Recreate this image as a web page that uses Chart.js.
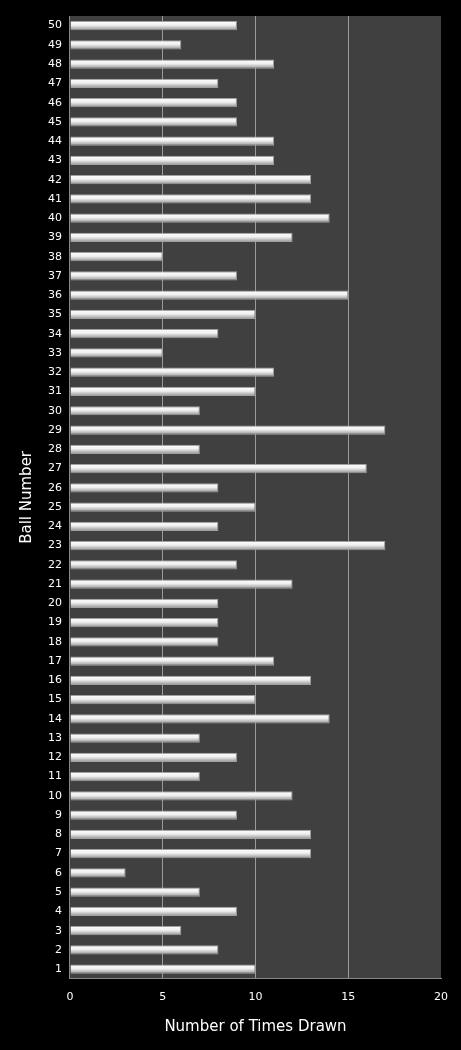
<!DOCTYPE html>
<html><head><meta charset="utf-8">
<script src="https://cdn.jsdelivr.net/npm/chart.js@4"></script>
<style>html,body{margin:0;padding:0;background:#000;}#w{width:461px;height:1050px;}</style>
</head><body><div id="w"><canvas id="c"></canvas></div>
<script>
const balls = Array.from({length:50},(_,i)=>String(i+1));
const timesDrawn = [10,8,6,9,7,3,13,13,9,12,7,9,7,14,10,13,11,8,8,8,12,9,17,8,10,8,16,7,17,7,10,11,5,8,10,15,9,5,12,14,13,13,11,11,9,9,8,11,6,9];
const xTicks = [0,5,10,15,20];
const bgPlugin = {id:'bg',beforeDraw(ch){const a=ch.chartArea,ctx=ch.ctx;ctx.save();ctx.fillStyle='#000';ctx.fillRect(0,0,ch.width,ch.height);ctx.fillStyle='#404040';ctx.fillRect(a.left,a.top,a.right-a.left,a.bottom-a.top);ctx.restore();}};
new Chart(document.getElementById('c'),{
type:'bar',
data:{labels:balls,datasets:[{data:timesDrawn,
 backgroundColor(ctx){const ch=ctx.chart;const ys=ch.scales&&ch.scales.y;if(!ch.chartArea||!ys||ctx.dataIndex===undefined)return '#e6e6e6';const y=ys.getPixelForValue(ctx.dataIndex);const g=ch.ctx.createLinearGradient(0,y-5,0,y+5);g.addColorStop(0,'#ffffff');g.addColorStop(0.45,'#f0f0f0');g.addColorStop(1,'#8a8a8a');return g;},
 borderColor:'#a0a0a0',borderWidth:1,barPercentage:0.48,categoryPercentage:1}]},
options:{indexAxis:'y',responsive:true,maintainAspectRatio:false,animation:false,
 layout:{padding:{top:16,right:20,bottom:10,left:14}},
 plugins:{legend:{display:false},tooltip:{enabled:false}},
 scales:{
  x:{min:0,max:20,afterBuildTicks(s){s.ticks=xTicks.map(v=>({value:v}));},
     grid:{color:ctx=>ctx.tick&&ctx.tick.value>0&&ctx.tick.value<20?'#9a9a9a':'rgba(0,0,0,0)',drawTicks:false,lineWidth:1},
     border:{color:'#888'},
     ticks:{color:'#fff',font:{family:'DejaVu Sans',size:11},padding:12},
     title:{display:true,text:'Number of Times Drawn',color:'#fff',font:{family:'DejaVu Sans',size:15},padding:{top:2}}},
  y:{reverse:true,grid:{display:false,drawTicks:false},border:{color:'#888'},
     ticks:{color:'#fff',font:{family:'DejaVu Sans',size:11},padding:8,autoSkip:false},
     title:{display:true,text:'Ball Number',color:'#fff',font:{family:'DejaVu Sans',size:15},padding:{bottom:4}}}
 }},
plugins:[bgPlugin]});
</script></body></html>
